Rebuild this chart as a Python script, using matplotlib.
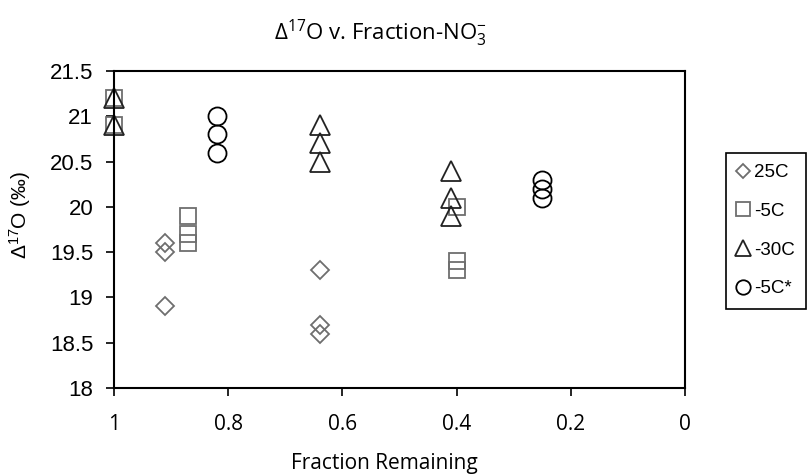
import matplotlib
matplotlib.use("Agg")
import matplotlib.pyplot as plt

plt.rcParams["font.family"] = ["Liberation Sans", "DejaVu Sans"]
plt.rcParams["mathtext.default"] = "regular"

# fraction of nitrate remaining vs Δ17O (‰), one list pair per series
frac_25C = [0.91, 0.91, 0.91, 0.64, 0.64, 0.64]
d17o_25C = [19.6, 19.5, 18.9, 19.3, 18.7, 18.6]

frac_m5C = [1.0, 1.0, 0.87, 0.87, 0.87, 0.40, 0.40, 0.40]
d17o_m5C = [21.2, 20.9, 19.9, 19.7, 19.6, 20.0, 19.4, 19.3]

frac_m30C = [1.0, 1.0, 0.64, 0.64, 0.64, 0.41, 0.41, 0.41]
d17o_m30C = [21.2, 20.9, 20.9, 20.7, 20.5, 20.4, 20.1, 19.9]

frac_m5Cs = [0.82, 0.82, 0.82, 0.25, 0.25, 0.25]
d17o_m5Cs = [21.0, 20.8, 20.6, 20.3, 20.2, 20.1]

series_labels = ["25C", "-5C", "-30C", "-5C*"]
x_ticks = [1, 0.8, 0.6, 0.4, 0.2, 0]
x_ticklabels = ["1", "0.8", "0.6", "0.4", "0.2", "0"]
y_ticks = [18, 18.5, 19, 19.5, 20, 20.5, 21, 21.5]
y_ticklabels = ["18", "18.5", "19", "19.5", "20", "20.5", "21", "21.5"]

GREY = "#6e6e6e"
HUMANIST = ["Open Sans", "DejaVu Sans"]

fig = plt.figure(figsize=(8.1, 4.75), dpi=100)
ax = fig.add_axes([114 / 810, 87 / 475, 571 / 810, 317 / 475])

kw = dict(linestyle="none", markerfacecolor="none", markeredgewidth=1.3, clip_on=False)
h1, = ax.plot(frac_25C, d17o_25C, marker="D", markersize=9, markeredgecolor=GREY,
              label=series_labels[0], **kw)
h2, = ax.plot(frac_m5C, d17o_m5C, marker="s", markersize=12, markeredgecolor=GREY,
              label=series_labels[1], **kw)
h3, = ax.plot(frac_m30C, d17o_m30C, marker="^", markersize=15, markeredgecolor="#222222",
              label=series_labels[2], **kw)
h4, = ax.plot(frac_m5Cs, d17o_m5Cs, marker="o", markersize=13, markeredgecolor="black",
              label=series_labels[3], **kw)

ax.set_xlim(1, 0)
ax.set_ylim(18, 21.5)
ax.set_xticks(x_ticks)
ax.set_xticklabels(x_ticklabels, family=HUMANIST, fontsize=15)
ax.set_yticks(y_ticks)
ax.set_yticklabels(y_ticklabels, fontsize=16)
ax.tick_params(axis="both", direction="out", length=6, width=1.2, color="black")
ax.tick_params(axis="x", pad=13)
ax.tick_params(axis="y", pad=9)
for s in ax.spines.values():
    s.set_linewidth(1.5)

ax.set_xlabel("Fraction Remaining", family=HUMANIST, fontsize=15)
ax.xaxis.set_label_coords(0.473, -0.205)
ax.set_ylabel("Δ$^{17}$O (‰)", fontsize=15)
ax.yaxis.set_label_coords(-0.142, 0.546)
title = ax.set_title("Δ$^{17}$O v. Fraction-NO$_3^{-}$", family=HUMANIST, fontsize=16, pad=22)
title.set_x(0.467)

fig.legend(handles=[h1, h2, h3, h4], loc="upper left",
           bbox_to_anchor=(726 / 810, 1 - 153 / 475), fontsize=13.5,
           markerscale=0.8, handlelength=0.6, handletextpad=0.3,
           labelspacing=1.15, borderpad=0.6, borderaxespad=0,
           frameon=True, fancybox=False, edgecolor="black", framealpha=1)
fig.legends[0].get_frame().set_linewidth(1.2)

fig.savefig("out.png", dpi=100)
